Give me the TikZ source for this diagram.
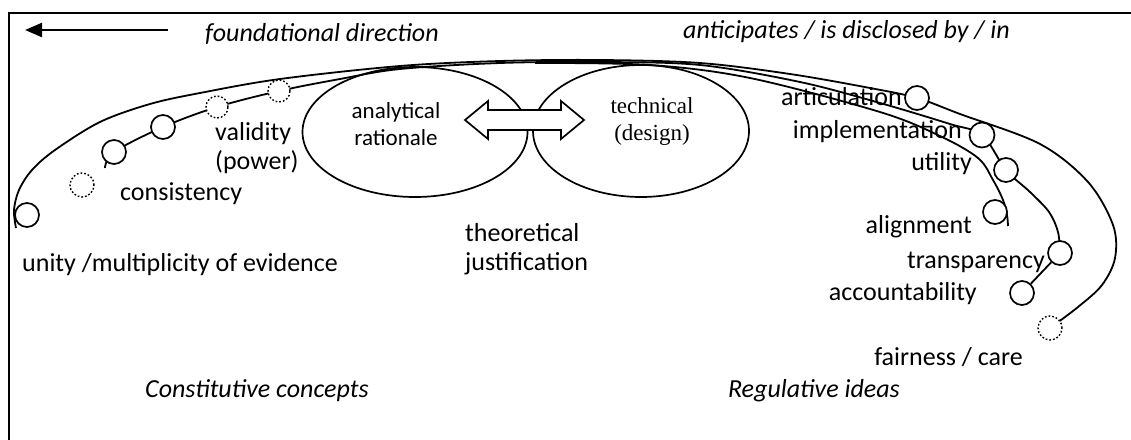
\documentclass[tikz,border=0pt]{standalone}
\usepackage{fontspec}
\setmainfont{Carlito}
\newfontfamily\tnr{Liberation Serif}
\usetikzlibrary{shapes.geometric,arrows.meta}
\pgfdeclarelayer{back}
\pgfdeclarelayer{bg}
\pgfsetlayers{back,bg,main}
\tikzset{
 lbl/.style={inner sep=0pt, font=\fontsize{26}{29}\selectfont},
 ilbl/.style={inner sep=0pt, font=\fontsize{26}{29}\selectfont\itshape},
 curve/.style={line width=1.8pt},
 circ/.style={circle, draw, fill=white, minimum size=24pt, inner sep=0pt, line width=1.7pt},
 dcirc/.style={circ, dotted, line width=1.4pt},
 ell/.style={ellipse, draw, line width=1.7pt, inner sep=0pt},
}
\begin{document}
\begin{tikzpicture}[x=1pt,y=-1pt]
\useasboundingbox (0,0) rectangle (1131,439);
\begin{pgfonlayer}{back}
\fill[white] (0,0) rectangle (1131,439);
\end{pgfonlayer}
\draw[line width=2.4pt] (1140,13) -- (9,13) -- (9,450);

% top arrow and headings
\coordinate (arT) at (168,30);
\coordinate (arH) at (25,30);
\draw[line width=2.2pt, -{Triangle[length=17pt,width=14pt]}] (arT) -- (arH);
\node[ilbl, anchor=base west] (fd) at (205,41) {foundational direction};
\node[ilbl, anchor=base west] (ant) at (683,38) {anticipates / is disclosed by / in};

% ellipses
\node[ell, minimum width=225pt, minimum height=130pt] (E1) at (415,132) {};
\node[ell, minimum width=216pt, minimum height=132pt] (E2) at (641,131) {};
\node[inner sep=0pt, font=\fontsize{23}{27}\selectfont, align=center] (T1) at (396,124) {analytical\\rationale};
\node[inner sep=0pt, font=\fontsize{23}{27}\selectfont\tnr, align=center] (T2) at (652,122) {technical\\(design)};
\draw[line width=1.7pt, fill=white] (465,120) -- (488,101) -- (488,110) -- (561,110) -- (561,101) -- (584,120) -- (561,139) -- (561,130) -- (488,130) -- (488,139) -- cycle;

% circles
\node[circ] (L1) at (27,215) {};
\node[dcirc] (L2) at (82,185) {};
\node[circ] (L3) at (114,152) {};
\node[circ] (L4) at (163,127) {};
\node[dcirc, minimum size=22pt] (L5) at (217,107) {};
\node[dcirc, minimum size=22pt] (L6) at (279,91) {};
\node[circ] (R1) at (917,98) {};
\node[circ, minimum size=25pt] (R2) at (982,135) {};
\node[circ] (R3) at (1006,170) {};
\node[circ] (R4) at (995,212) {};
\node[circ] (R5) at (1060,253) {};
\node[circ] (R6) at (1022,293) {};
\node[dcirc] (R7) at (1050,328) {};

% labels
\node[lbl, anchor=west, align=left] (val) at (215,148) {validity\\(power)};
\node[lbl, anchor=base west] (con) at (120,200) {consistency};
\node[lbl, anchor=base west] (uni) at (22,271) {unity /multiplicity of evidence};
\node[lbl, anchor=west, align=left] (the) at (465,249) {theoretical\\justification};
\node[ilbl, anchor=base west] (cc) at (145,397) {Constitutive concepts};
\node[ilbl, anchor=base east] (ri) at (900,397) {Regulative ideas};
\node[lbl, anchor=base east] (art) at (902,105) {articulation};
\node[lbl, anchor=base east] (imp) at (962,138) {implementation};
\node[lbl, anchor=base east] (uti) at (972,170) {utility};
\node[lbl, anchor=base east] (ali) at (972,233) {alignment};
\node[lbl, anchor=base east] (tra) at (1045,268) {transparency};
\node[lbl, anchor=base east] (acc) at (977,300) {accountability};
\node[lbl, anchor=base east] (fai) at (1023,365) {fairness / care};

% curves
\begin{pgfonlayer}{bg}
\draw[curve] plot[smooth, tension=0.55] coordinates {(16,228) (14,210) (19,190) (32,170) (55,150) (100,122) (150,104) (200,93) (280,79) (400,66) (500,61) (600,60) (700,63) (790,74) (870,88) (R1) (960,114) (1040,144) (1088,182) (1113,225) (1115,258) (1102,285) (1078,307) (R7)};
\draw[curve] plot[smooth, tension=0.55] coordinates {(105,168) (L3) (L4) (L5) (L6) (340,79) (400,69) (500,63) (600,62) (700,65) (800,82) (880,103) (950,124) (R2) (R3) (1030,192) (1049,212) (1058,232) (R5)};
\draw[curve] (R5) -- (R6);
\draw[curve] plot[smooth, tension=0.55] coordinates {(535,63) (650,65) (750,78) (880,112) (940,136) (978,158) (993,180) (1003,200) (1007,215) (1008,226)};
\end{pgfonlayer}
\end{tikzpicture}
\end{document}
